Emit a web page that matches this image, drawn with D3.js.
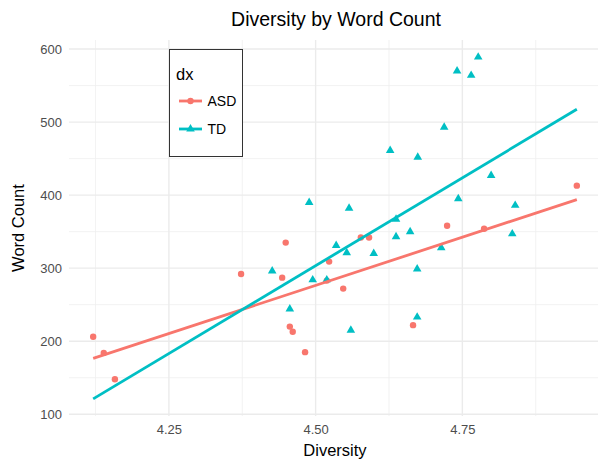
<!DOCTYPE html>
<html>
<head>
<meta charset="utf-8">
<script src="https://cdn.jsdelivr.net/npm/d3@7"></script>
<style>
  body { margin: 0; background: #fff; }
  text { font-family: "Liberation Sans", Arial, sans-serif; }
</style>
</head>
<body>
<svg id="chart" width="598" height="461"></svg>
<script>
// values
const asdDiversity = [4.121, 4.139, 4.158, 4.373, 4.449, 4.443, 4.456, 4.461, 4.482, 4.523, 4.547, 4.577, 4.591, 4.724, 4.666, 4.787, 4.945, 4.519]
const asdWords = [206, 184, 148, 292, 335, 287, 220, 213, 185, 309, 272, 342, 342, 358, 222, 354, 413, 283]

const tdDiversity = [4.777, 4.741, 4.765, 4.719, 4.627, 4.674, 4.799, 4.743, 4.840, 4.835, 4.557, 4.637, 4.489, 4.535, 4.553, 4.426, 4.495, 4.519, 4.456, 4.560, 4.637, 4.661, 4.599, 4.714, 4.673, 4.673]
const tdWords = [589, 570, 564, 493, 461, 452, 427, 395, 386, 347, 382, 367, 390, 331, 321, 296, 284, 284, 244, 215, 343, 350, 320, 328, 299, 233]

const groups = ['ASD', 'TD']
const colors = ['#F8766D', '#00BFC4']
const xTicks = [4.25, 4.50, 4.75]
const yTicks = [100, 200, 300, 400, 500, 600]

const PANEL_LEFT = 69
const PANEL_RIGHT = 601
const PANEL_TOP = 40
const PANEL_BOTTOM = 416

var series = [
  { name: groups[0], color: colors[0], xs: asdDiversity, ys: asdWords },
  { name: groups[1], color: colors[1], xs: tdDiversity, ys: tdWords }
]

var allX = asdDiversity.concat(tdDiversity)
var xMin = d3.min(allX)
var xMax = d3.max(allX)

// plain least squares, drawn over the full x range like fullrange = TRUE
series.forEach(function (s) {
  var mx = d3.mean(s.xs)
  var my = d3.mean(s.ys)
  var sxy = d3.sum(s.xs, function (v, i) { return (v - mx) * (s.ys[i] - my) })
  var sxx = d3.sum(s.xs, function (v) { return (v - mx) * (v - mx) })
  s.slope = sxy / sxx
  s.intercept = my - s.slope * mx
  s.fit = [xMin, xMax].map(function (v) { return [v, s.intercept + s.slope * v] })
})

var allY = asdWords.concat(tdWords)
series.forEach(function (s) { allY = allY.concat(s.fit.map(function (p) { return p[1] })) })
var yMin = d3.min(allY)
var yMax = d3.max(allY)

var xPad = (xMax - xMin) * 0.05
var yPad = (yMax - yMin) * 0.05

var x = d3.scaleLinear().domain([xMin - xPad, xMax + xPad]).range([PANEL_LEFT, PANEL_RIGHT])
var y = d3.scaleLinear().domain([yMin - yPad, yMax + yPad]).range([PANEL_BOTTOM, PANEL_TOP])

var svg = d3.select('#chart')

// grid
var xMinor = d3.range(xTicks[0] - 0.125, xTicks[xTicks.length - 1] + 0.2, 0.25)
var yMinor = d3.range(yTicks[0] + 50, yTicks[yTicks.length - 1], 100)
var grid = svg.append('g')

grid.selectAll('.xminor').data(xMinor).enter().append('line')
  .attr('x1', function (d) { return x(d) }).attr('x2', function (d) { return x(d) })
  .attr('y1', PANEL_TOP).attr('y2', PANEL_BOTTOM)
  .attr('stroke', '#EFEFEF').attr('stroke-width', 0.8)
grid.selectAll('.yminor').data(yMinor).enter().append('line')
  .attr('x1', PANEL_LEFT).attr('x2', PANEL_RIGHT)
  .attr('y1', function (d) { return y(d) }).attr('y2', function (d) { return y(d) })
  .attr('stroke', '#EFEFEF').attr('stroke-width', 0.8)
grid.selectAll('.xmajor').data(xTicks).enter().append('line')
  .attr('x1', function (d) { return x(d) }).attr('x2', function (d) { return x(d) })
  .attr('y1', PANEL_TOP).attr('y2', PANEL_BOTTOM)
  .attr('stroke', '#EBEBEB').attr('stroke-width', 1.4)
grid.selectAll('.ymajor').data(yTicks).enter().append('line')
  .attr('x1', PANEL_LEFT).attr('x2', PANEL_RIGHT)
  .attr('y1', function (d) { return y(d) }).attr('y2', function (d) { return y(d) })
  .attr('stroke', '#EBEBEB').attr('stroke-width', 1.4)

// axes (text only, theme_minimal style)
var xAxis = svg.append('g')
  .attr('transform', 'translate(0,' + (PANEL_BOTTOM + 9) + ')')
  .call(d3.axisBottom(x).tickValues(xTicks).tickFormat(d3.format('.2f')).tickSize(0).tickPadding(0))
var yAxis = svg.append('g')
  .attr('transform', 'translate(' + (PANEL_LEFT - 7) + ',0)')
  .call(d3.axisLeft(y).tickValues(yTicks).tickSize(0).tickPadding(0))
;[xAxis, yAxis].forEach(function (a) {
  a.select('.domain').remove()
  a.selectAll('text').attr('fill', '#4D4D4D').style('font-size', '13px')
    .style('font-family', '"Liberation Sans", Arial, sans-serif')
})

// points
var triangle = d3.symbol().type(d3.symbolTriangle).size(32)
var pts = svg.append('g')
pts.selectAll('.asd').data(asdDiversity).enter().append('circle')
  .attr('cx', function (d) { return x(d) })
  .attr('cy', function (d, i) { return y(asdWords[i]) })
  .attr('r', 3.2)
  .attr('fill', colors[0])
pts.selectAll('.td').data(tdDiversity).enter().append('path')
  .attr('d', triangle)
  .attr('transform', function (d, i) { return 'translate(' + x(d) + ',' + y(tdWords[i]) + ')' })
  .attr('fill', colors[1])

// fitted lines
var line = d3.line().x(function (p) { return x(p[0]) }).y(function (p) { return y(p[1]) })
svg.append('g').selectAll('path').data(series).enter().append('path')
  .attr('d', function (s) { return line(s.fit) })
  .attr('stroke', function (s) { return s.color })
  .attr('stroke-width', 2.8)
  .attr('fill', 'none')

// titles
svg.append('text')
  .text('Diversity by Word Count')
  .attr('x', 336).attr('y', 26)
  .attr('text-anchor', 'middle')
  .style('font-size', '19.5px')
svg.append('text')
  .text('Diversity')
  .attr('x', 335).attr('y', 456)
  .attr('text-anchor', 'middle')
  .style('font-size', '16.5px')
svg.append('text')
  .text('Word Count')
  .attr('transform', 'rotate(-90) translate(' + (-228) + ',24)')
  .attr('text-anchor', 'middle')
  .style('font-size', '16.5px')

// legend
var legend = svg.append('g')
legend.append('rect')
  .attr('x', 169.5).attr('y', 49.5).attr('width', 73).attr('height', 107)
  .attr('fill', '#fff').attr('stroke', '#333').attr('stroke-width', 1)
legend.append('text').text('dx').attr('x', 176).attr('y', 80).style('font-size', '16.5px')

var keys = legend.selectAll('.key').data(series).enter().append('g')
  .attr('transform', function (s, i) { return 'translate(0,' + (101 + i * 28) + ')' })
keys.append('line')
  .attr('x1', 179).attr('x2', 202).attr('y1', 0).attr('y2', 0)
  .attr('stroke', function (s) { return s.color }).attr('stroke-width', 2.8)
keys.filter(function (s, i) { return i === 0 }).append('circle')
  .attr('cx', 190.5).attr('cy', 0).attr('r', 3.2).attr('fill', colors[0])
keys.filter(function (s, i) { return i === 1 }).append('path')
  .attr('d', triangle).attr('transform', 'translate(190.5,0)').attr('fill', colors[1])
keys.append('text')
  .text(function (s) { return s.name })
  .attr('x', 207.5).attr('y', 5)
  .style('font-size', '14px')
</script>
</body>
</html>
